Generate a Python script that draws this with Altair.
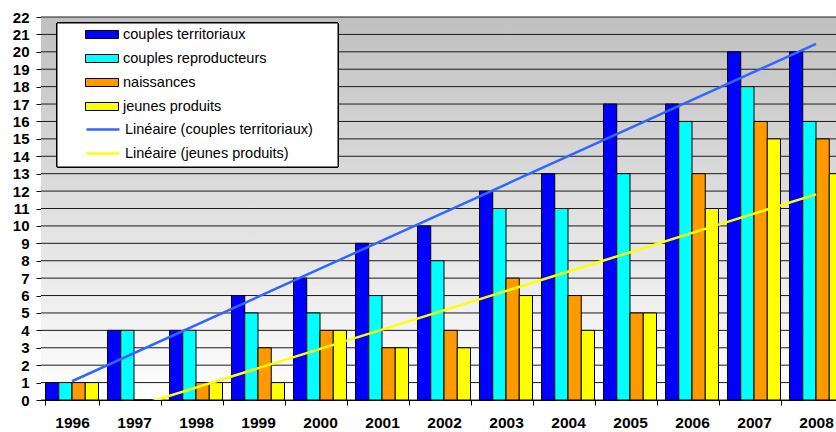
import altair as alt
import pandas as pd

# Suivi annuel des couples et des jeunes
years = [1996, 1997, 1998, 1999, 2000, 2001, 2002, 2003, 2004, 2005, 2006, 2007, 2008]
couples_territoriaux = [1, 4, 4, 6, 7, 9, 10, 12, 13, 17, 17, 20, 20]
couples_reproducteurs = [1, 4, 4, 5, 5, 6, 8, 11, 11, 13, 16, 18, 16]
naissances = [1, 0, 1, 3, 4, 3, 4, 7, 6, 5, 13, 16, 15]
jeunes_produits = [1, 0, 1, 1, 4, 3, 3, 6, 4, 5, 11, 15, 13]

y_ticks = list(range(0, 23))

bar_series = ["couples territoriaux", "couples reproducteurs", "naissances", "jeunes produits"]
bar_colors = ["#0000ff", "#00ffff", "#ff9900", "#ffff00"]
trend_series = ["Linéaire (couples territoriaux)", "Linéaire (jeunes produits)"]
trend_colors = ["#3366ff", "#ffff00"]

columns = [couples_territoriaux, couples_reproducteurs, naissances, jeunes_produits]
rows = []
for name, vals in zip(bar_series, columns):
    for yr, v in zip(years, vals):
        rows.append({"year": yr, "series": name, "value": v})
df = pd.DataFrame(rows)
grid_df = pd.DataFrame({"tick": y_ticks})

W, H = 795, 383
RANGE_X = [0, 806]
FONT = "Liberation Sans"

box_path = "M-2.357,-0.571H2.357V0.571H-2.357Z"
line_path = "M-2.357,0H2.357"

legend_common = dict(
    title=None,
    orient="none",
    legendX=53.5,
    padding=0,
    symbolSize=196,
    symbolOffset=0,
    labelOffset=13.5,
    rowPadding=9,
    labelFont=FONT,
    labelFontSize=14.5,
    labelColor="#000000",
    labelLimit=400,
    symbolOpacity=1,
)

bar_legend = alt.Legend(
    legendY=10, symbolType=box_path, symbolStrokeColor="#000000",
    symbolStrokeWidth=1, **legend_common
)
trend_legend = alt.Legend(
    legendY=104, symbolType=line_path, symbolStrokeWidth=2.5, **legend_common
)

y_scale = alt.Scale(domain=[0, 22], nice=False, zero=True)
y_axis = alt.Axis(
    values=y_ticks, grid=False, title=None, tickSize=5, tickColor="#000000",
    domainColor="#000000", labelFont=FONT, labelFontWeight="bold",
    labelFontSize=15, labelColor="#000000", labelPadding=7,
    labelOverlap=False,
)

background = alt.Chart(grid_df).mark_rect(
    fill=alt.Gradient(
        gradient="linear",
        stops=[alt.GradientStop(color="#c0c0c0", offset=0),
               alt.GradientStop(color="#ffffff", offset=1)],
        x1=0, x2=0, y1=0, y2=1,
    )
).encode(x=alt.value(0), x2=alt.value(806), y=alt.value(0), y2=alt.value(H))

grid = alt.Chart(grid_df).mark_rule(color="#1a1a1a", strokeWidth=1).encode(
    y=alt.Y("tick:Q", scale=y_scale, axis=y_axis)
)

bars = alt.Chart(df).mark_bar(stroke="#000000", strokeWidth=1, opacity=1).encode(
    x=alt.X(
        "year:O",
        scale=alt.Scale(range=RANGE_X, paddingInner=0.145, paddingOuter=0.0725),
        axis=alt.Axis(
            title=None, labelAngle=0, tickBand="extent", tickSize=5,
            tickColor="#000000", domainColor="#000000", labelFont=FONT,
            labelFontWeight="bold", labelFontSize=15.5, labelColor="#000000",
            labelPadding=10, labelOverlap=False,
        ),
    ),
    xOffset=alt.XOffset("series:N", sort=bar_series, scale=alt.Scale(paddingInner=0, paddingOuter=0)),
    y=alt.Y("value:Q", scale=y_scale, axis=y_axis),
    fill=alt.Fill("series:N", sort=bar_series,
                  scale=alt.Scale(domain=bar_series, range=bar_colors), legend=bar_legend),
)

trends = alt.Chart(df).transform_filter(
    alt.FieldOneOfPredicate(field="series", oneOf=["couples territoriaux", "jeunes produits"])
).transform_regression(
    "year", "value", groupby=["series"]
).transform_calculate(
    trend="'Linéaire (' + datum.series + ')'"
).mark_line(strokeWidth=2.5, clip=True).encode(
    x=alt.X("year:Q", scale=alt.Scale(domain=[1995.5, 2008.5], range=RANGE_X, nice=False, zero=False), axis=None),
    y=alt.Y("value:Q", scale=y_scale, axis=y_axis),
    stroke=alt.Stroke("trend:N", sort=trend_series,
                      scale=alt.Scale(domain=trend_series, range=trend_colors), legend=trend_legend),
)

frame = alt.Chart(grid_df).mark_rect(fill="#ffffff", stroke="#000000", strokeWidth=1).encode(
    x=alt.value(16), x2=alt.value(297), y=alt.value(6), y2=alt.value(150)
)

chart = alt.layer(background, grid, bars, trends, frame).resolve_scale(
    x="independent"
).properties(
    width=W, height=H,
    padding={"left": 41, "top": 17, "right": 0, "bottom": 32},
    autosize=alt.AutoSizeParams(type="none"),
    background="#ffffff",
).configure_view(stroke=None)

chart.save("out.html", embed_options={"renderer": "svg", "actions": False})
